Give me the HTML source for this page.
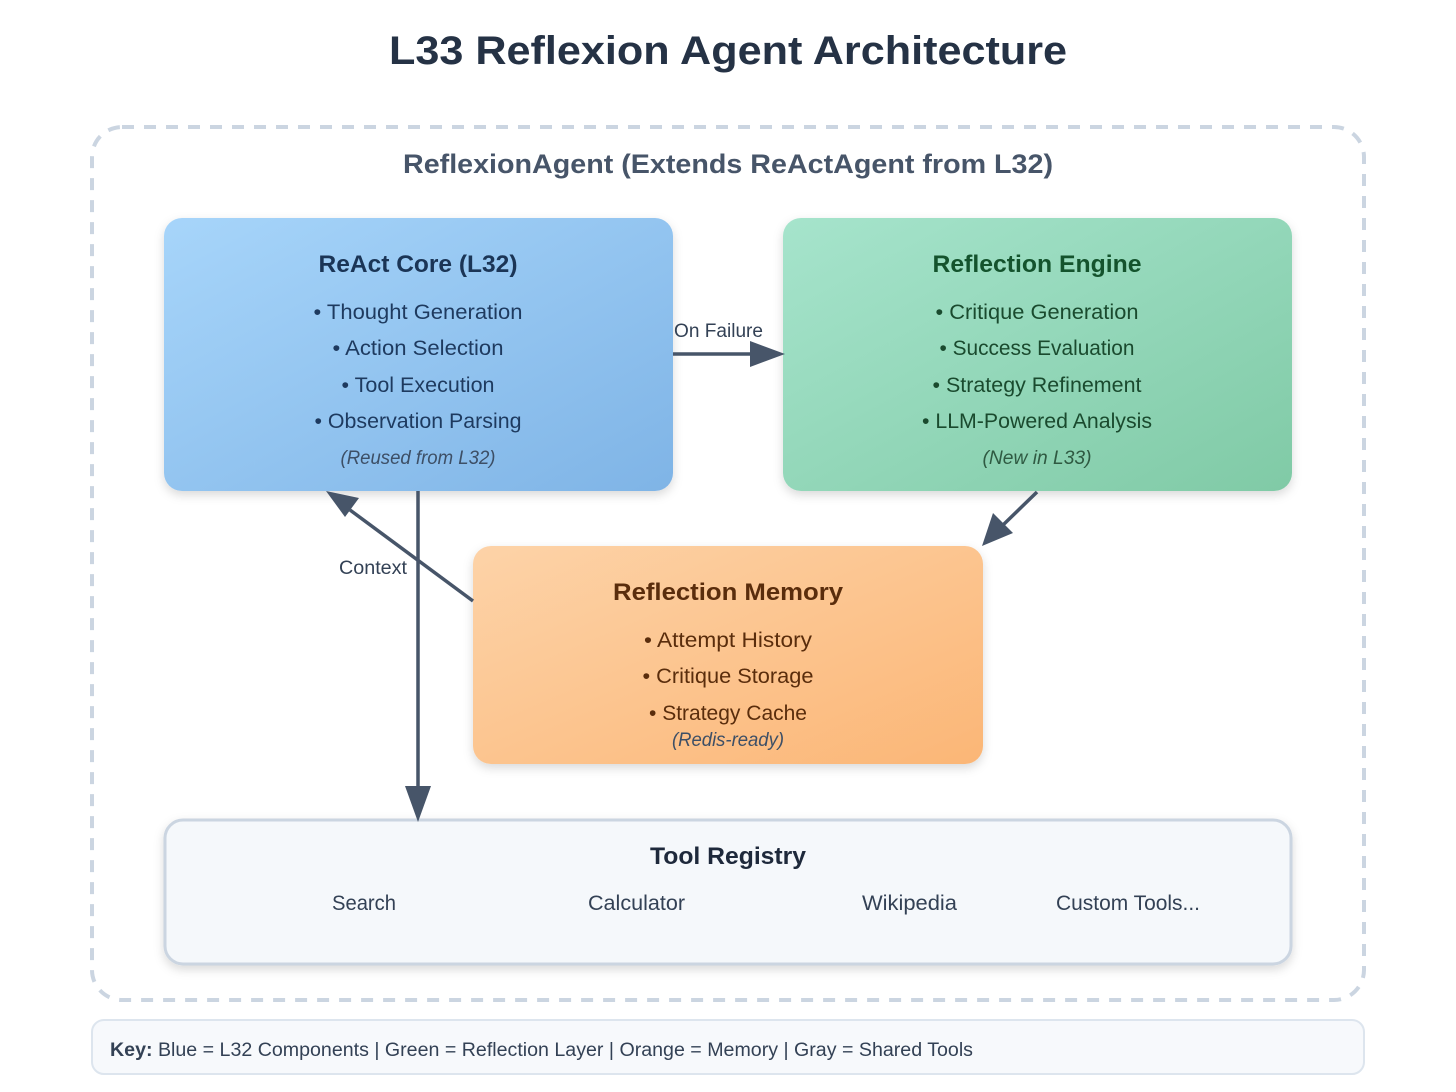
<!DOCTYPE html>
<html><head><meta charset="utf-8"><style>
html,body{margin:0;padding:0;background:#fff}
svg{display:block}
text{font-family:"Liberation Sans",sans-serif}
</style></head><body>
<svg width="1456" height="1092" viewBox="0 0 1456 1092" xmlns="http://www.w3.org/2000/svg">
<defs>
<linearGradient id="gb" x1="0" y1="0" x2="1" y2="1"><stop offset="0" stop-color="#a7d5fa"/><stop offset="1" stop-color="#7fb4e6"/></linearGradient>
<linearGradient id="gg" x1="0" y1="0" x2="1" y2="1"><stop offset="0" stop-color="#a6e4cc"/><stop offset="1" stop-color="#80caa6"/></linearGradient>
<linearGradient id="go" x1="0" y1="0" x2="1" y2="1"><stop offset="0" stop-color="#fdd3a8"/><stop offset="1" stop-color="#fbb676"/></linearGradient>
<filter id="sh" x="-10%" y="-10%" width="120%" height="130%"><feDropShadow dx="0" dy="4" stdDeviation="5" flood-color="#000" flood-opacity="0.15"/></filter>
</defs>
<text x="728" y="64" text-anchor="middle" font-size="40" font-weight="bold" fill="#253245" textLength="678" lengthAdjust="spacingAndGlyphs">L33 Reflexion Agent Architecture</text>
<rect x="92" y="127" width="1272" height="873" rx="30" fill="none" stroke="#cbd5e1" stroke-width="4" stroke-dasharray="12 10"/>
<text x="728" y="173" text-anchor="middle" font-size="27" font-weight="bold" fill="#475569" textLength="650" lengthAdjust="spacingAndGlyphs">ReflexionAgent (Extends ReActAgent from L32)</text>

<rect x="164" y="218" width="509" height="273" rx="18" fill="url(#gb)" filter="url(#sh)"/>
<g fill="#1e3a5f" text-anchor="middle">
<text x="418" y="272" font-size="24" font-weight="bold" fill="#1b3556" textLength="199" lengthAdjust="spacingAndGlyphs">ReAct Core (L32)</text>
<text x="418" y="319" font-size="21" textLength="209" lengthAdjust="spacingAndGlyphs">• Thought Generation</text>
<text x="418" y="355" font-size="21" textLength="171" lengthAdjust="spacingAndGlyphs">• Action Selection</text>
<text x="418" y="392" font-size="21" textLength="153" lengthAdjust="spacingAndGlyphs">• Tool Execution</text>
<text x="418" y="428" font-size="21" textLength="207" lengthAdjust="spacingAndGlyphs">• Observation Parsing</text>
<text x="418" y="464" font-size="19" font-style="italic" fill="#3d4f66" textLength="155" lengthAdjust="spacingAndGlyphs">(Reused from L32)</text>
</g>

<rect x="783" y="218" width="509" height="273" rx="18" fill="url(#gg)" filter="url(#sh)"/>
<g fill="#1a4a2e" text-anchor="middle">
<text x="1037" y="272" font-size="24" font-weight="bold" fill="#14532d" textLength="209" lengthAdjust="spacingAndGlyphs">Reflection Engine</text>
<text x="1037" y="319" font-size="21" textLength="203" lengthAdjust="spacingAndGlyphs">• Critique Generation</text>
<text x="1037" y="355" font-size="21" textLength="195" lengthAdjust="spacingAndGlyphs">• Success Evaluation</text>
<text x="1037" y="392" font-size="21" textLength="209" lengthAdjust="spacingAndGlyphs">• Strategy Refinement</text>
<text x="1037" y="428" font-size="21" textLength="230" lengthAdjust="spacingAndGlyphs">• LLM-Powered Analysis</text>
<text x="1037" y="464" font-size="19" font-style="italic" fill="#2f5a42" textLength="109" lengthAdjust="spacingAndGlyphs">(New in L33)</text>
</g>

<rect x="473" y="546" width="510" height="218" rx="18" fill="url(#go)" filter="url(#sh)"/>
<g fill="#5a2d0c" text-anchor="middle">
<text x="728" y="600" font-size="24" font-weight="bold" textLength="230" lengthAdjust="spacingAndGlyphs">Reflection Memory</text>
<text x="728" y="647" font-size="21" textLength="168" lengthAdjust="spacingAndGlyphs">• Attempt History</text>
<text x="728" y="683" font-size="21" textLength="171" lengthAdjust="spacingAndGlyphs">• Critique Storage</text>
<text x="728" y="720" font-size="21" textLength="158" lengthAdjust="spacingAndGlyphs">• Strategy Cache</text>
<text x="728" y="746" font-size="19" font-style="italic" fill="#3d4f66" textLength="112" lengthAdjust="spacingAndGlyphs">(Redis-ready)</text>
</g>

<rect x="165" y="820" width="1126" height="144" rx="18" fill="#f5f8fb" stroke="#cbd5e1" stroke-width="3" filter="url(#sh)"/>
<text x="728" y="864" text-anchor="middle" font-size="24" font-weight="bold" fill="#1e293b" textLength="156" lengthAdjust="spacingAndGlyphs">Tool Registry</text>
<g font-size="21" fill="#334155">
<text x="332" y="910" textLength="64" lengthAdjust="spacingAndGlyphs">Search</text>
<text x="588" y="910" textLength="97" lengthAdjust="spacingAndGlyphs">Calculator</text>
<text x="862" y="910" textLength="95" lengthAdjust="spacingAndGlyphs">Wikipedia</text>
<text x="1056" y="910" textLength="144" lengthAdjust="spacingAndGlyphs">Custom Tools...</text>
</g>

<g stroke="#475569" stroke-width="3.5" fill="#475569">
<line x1="673" y1="354" x2="752" y2="354"/>
<polygon points="785,354 750,341 750,367" stroke="none"/>
<line x1="1037" y1="492" x2="1003" y2="525"/>
<polygon points="982,546 993,513 1013,533" stroke="none"/>
<line x1="473" y1="601" x2="350" y2="510"/>
<polygon points="326,491 359,498 345,517" stroke="none"/>
<line x1="418" y1="491" x2="418" y2="790"/>
<polygon points="418,822 405,786 431,786" stroke="none"/>
</g>
<text x="674" y="337" font-size="19" fill="#334155" textLength="89" lengthAdjust="spacingAndGlyphs">On Failure</text>
<text x="339" y="574" font-size="19" fill="#334155" textLength="68" lengthAdjust="spacingAndGlyphs">Context</text>

<rect x="92" y="1020" width="1272" height="54" rx="12" fill="#f7f9fc" stroke="#dde5ee" stroke-width="2"/>
<text x="110" y="1056" font-size="19" fill="#334155" textLength="863" lengthAdjust="spacingAndGlyphs"><tspan font-weight="bold">Key:</tspan> Blue = L32 Components | Green = Reflection Layer | Orange = Memory | Gray = Shared Tools</text>
</svg>
</body></html>
